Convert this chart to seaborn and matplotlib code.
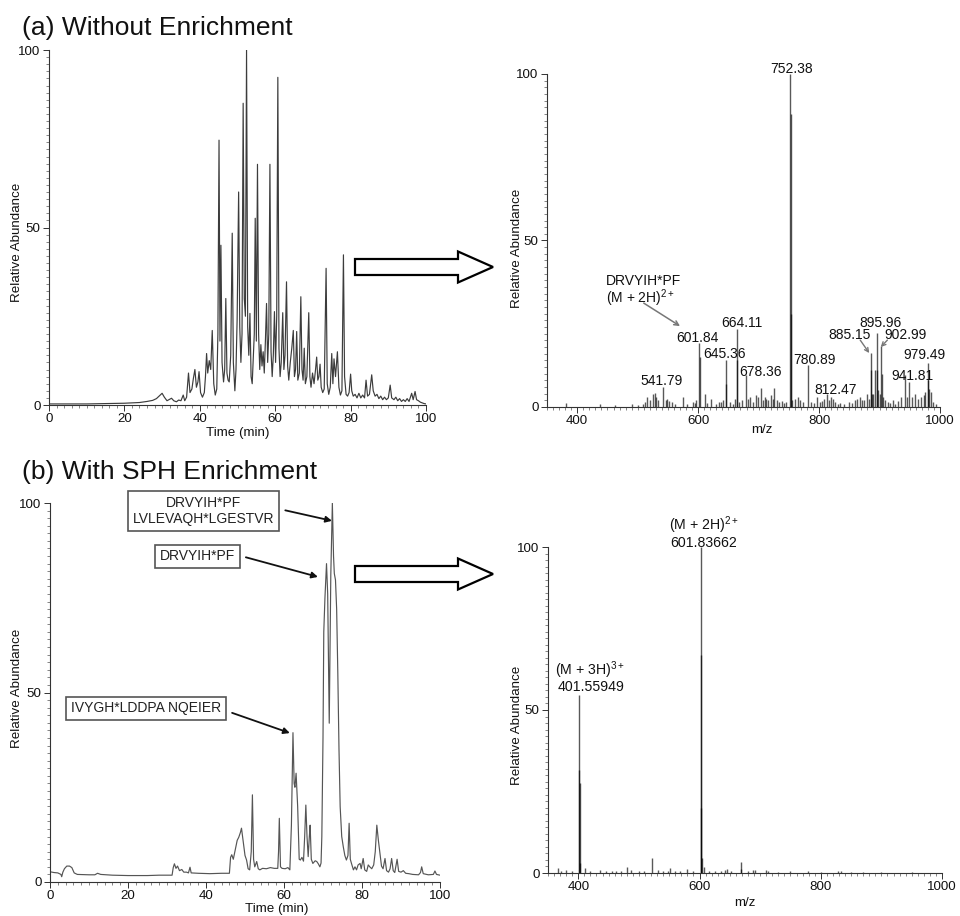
import matplotlib
matplotlib.use("Agg")
import matplotlib.pyplot as plt
from matplotlib.patches import Polygon
from matplotlib.ticker import MultipleLocator, FixedLocator
import seaborn as sns
import pandas as pd

# ---------------- data ----------------
# (a) base peak chromatogram without enrichment: (time min, relative abundance)
chrom_a_points = [
    (0, 0.3), (5, 0.3), (10, 0.3), (15, 0.4), (20, 0.5), (24, 0.7), (26, 1.0), (27.5, 1.3),
    (28.5, 1.8), (29.3, 2.6), (30.0, 3.3), (30.6, 2.2), (31.3, 1.2), (32.0, 1.6), (32.5, 1.9),
    (33.1, 1.2), (33.8, 0.9), (34.4, 1.4), (35.0, 1.2), (35.6, 2.8), (36.0, 1.2), (36.5, 2.2),
    (37.0, 9.0), (37.4, 3.5), (37.9, 4.5), (38.3, 7.5), (38.7, 10.0), (39.1, 5.0), (39.5, 6.5),
    (39.8, 9.4), (40.2, 3.5), (40.7, 2.2), (41.2, 3.5), (41.5, 8.0), (41.8, 14.5), (42.1, 9.0),
    (42.5, 12.5), (42.9, 10.0), (43.3, 21.0), (43.7, 6.0), (44.1, 2.8), (44.5, 4.5), (44.8, 20.0),
    (45.1, 74.6), (45.35, 18.0), (45.6, 45.0), (45.9, 12.0), (46.3, 6.5), (46.6, 10.0), (46.9, 30.0),
    (47.2, 9.0), (47.5, 7.0), (47.8, 6.5), (48.2, 14.0), (48.6, 48.4), (48.9, 12.0), (49.3, 4.0),
    (49.6, 10.0), (49.9, 24.0), (50.3, 60.0), (50.6, 22.0), (50.9, 12.0), (51.2, 20.0), (51.5, 85.0),
    (51.8, 30.0), (52.1, 25.0), (52.4, 100.0), (52.7, 22.0), (53.0, 14.0), (53.3, 25.8), (53.6, 8.0),
    (53.9, 6.0), (54.2, 14.0), (54.45, 20.0), (54.7, 52.6), (55.0, 18.0), (55.3, 67.8), (55.6, 20.0),
    (55.9, 10.0), (56.2, 17.0), (56.5, 11.0), (56.8, 15.0), (57.1, 9.0), (57.4, 18.0), (57.7, 28.6),
    (58.0, 12.0), (58.3, 20.0), (58.6, 67.8), (58.9, 15.0), (59.2, 8.0), (59.5, 14.0), (59.8, 26.3),
    (60.1, 12.0), (60.4, 25.0), (60.7, 92.3), (61.0, 16.0), (61.3, 8.0), (61.6, 12.0), (62.0, 26.0),
    (62.3, 10.0), (62.6, 14.0), (63.0, 34.7), (63.3, 11.0), (63.6, 7.0), (64.0, 12.0), (64.4, 16.0),
    (64.8, 21.0), (65.1, 8.0), (65.4, 10.0), (65.7, 20.7), (66.0, 7.0), (66.4, 9.0), (66.8, 30.5),
    (67.1, 10.0), (67.4, 7.0), (67.7, 16.0), (68.0, 6.0), (68.4, 8.0), (68.9, 26.0), (69.2, 8.0),
    (69.5, 5.0), (69.9, 9.0), (70.3, 6.0), (70.7, 10.0), (71.0, 13.5), (71.3, 7.0), (71.6, 8.0),
    (71.9, 11.5), (72.2, 5.0), (72.6, 3.5), (73.0, 4.5), (73.5, 38.5), (73.8, 6.0), (74.2, 3.0),
    (74.6, 5.0), (75.0, 14.5), (75.3, 6.0), (75.6, 13.0), (76.0, 8.0), (76.5, 15.0), (76.9, 5.0),
    (77.3, 2.8), (77.7, 4.0), (78.1, 42.3), (78.4, 8.0), (78.8, 3.0), (79.2, 2.5), (79.6, 3.5),
    (80.0, 8.7), (80.3, 4.0), (80.7, 2.5), (81.2, 3.0), (81.7, 2.0), (82.2, 3.3), (82.7, 2.0),
    (83.2, 2.8), (83.7, 2.0), (84.1, 7.0), (84.5, 2.5), (85.0, 3.0), (85.6, 8.5), (86.0, 4.0),
    (86.5, 2.5), (87.0, 3.0), (87.5, 1.8), (88.0, 2.5), (88.5, 1.5), (89.0, 2.2), (89.5, 1.5),
    (90.0, 2.0), (90.5, 5.6), (90.9, 2.0), (91.5, 1.5), (92.0, 2.2), (92.5, 1.2), (93.0, 1.8),
    (93.5, 1.0), (94.0, 1.5), (94.5, 1.0), (95.0, 1.8), (95.5, 1.0), (96.2, 3.3), (96.6, 1.5),
    (97.1, 3.8), (97.5, 1.5), (98.0, 1.2), (98.5, 0.8), (99.0, 0.6), (99.5, 0.4), (100, 0.3),
]

# (b) base peak chromatogram with SPH enrichment
chrom_b_points = [
    (0, 2.7), (1, 2.5), (2, 2.4), (2.8, 2.0), (3.0, 1.4), (3.3, 2.6), (3.7, 3.5), (4.3, 4.2),
    (5.0, 4.2), (5.6, 3.8), (6.2, 2.4), (7, 2.0), (10, 1.9), (11.5, 1.9), (12.2, 2.3), (13, 2.0),
    (16, 1.8), (20, 1.7), (25, 1.7), (28, 1.8), (31.3, 1.8), (31.6, 3.8), (31.9, 4.8), (32.3, 3.6),
    (32.7, 4.2), (33.2, 3.0), (33.8, 3.3), (34.3, 2.6), (35.0, 2.6), (35.5, 2.4), (35.9, 3.9),
    (36.2, 2.4), (38, 2.3), (41, 2.2), (44, 2.3), (46.0, 2.3), (46.3, 6.5), (46.6, 7.2), (47.0, 6.0),
    (47.5, 8.5), (48.0, 11.0), (48.4, 11.8), (48.8, 13.0), (49.1, 14.2), (49.5, 11.0), (50.0, 7.0),
    (50.4, 5.8), (50.8, 3.5), (51.2, 3.2), (51.6, 8.0), (51.9, 23.0), (52.2, 6.0), (52.5, 4.0),
    (53.0, 5.4), (53.4, 3.5), (53.8, 3.2), (54.5, 3.6), (55.5, 3.5), (56.5, 3.8), (57.5, 3.6),
    (58.4, 3.6), (58.6, 8.0), (58.8, 16.8), (59.1, 4.0), (59.5, 3.6), (60.3, 3.5), (61.0, 3.8),
    (61.5, 3.2), (61.9, 15.0), (62.3, 39.4), (62.6, 26.0), (62.8, 25.0), (63.1, 28.7), (63.5, 20.0),
    (63.9, 6.0), (64.2, 5.8), (64.6, 6.5), (65.0, 5.5), (65.3, 12.0), (65.6, 20.3), (65.9, 12.0),
    (66.2, 6.7), (66.5, 12.0), (66.7, 15.0), (67.0, 6.0), (67.4, 4.9), (68.0, 5.6), (68.4, 5.4),
    (68.8, 4.8), (69.2, 4.0), (69.5, 5.0), (69.7, 12.0), (70.0, 38.0), (70.2, 66.0), (70.5, 75.0),
    (70.9, 84.0), (71.2, 76.0), (71.4, 60.0), (71.6, 41.9), (71.8, 62.0), (72.0, 81.0), (72.4, 100.0),
    (72.7, 86.0), (72.9, 81.4), (73.2, 79.7), (73.5, 72.0), (73.8, 55.0), (74.1, 35.0), (74.4, 19.9),
    (74.8, 12.0), (75.2, 9.3), (75.6, 7.0), (76.0, 5.8), (76.4, 7.0), (76.7, 15.5), (77.0, 6.0),
    (77.3, 4.9), (77.8, 3.2), (78.2, 4.0), (78.6, 3.2), (79.0, 4.5), (79.5, 4.9), (79.8, 3.5),
    (80.3, 6.2), (80.7, 3.2), (81.2, 2.8), (81.6, 4.5), (82.0, 4.0), (82.5, 3.5), (83.0, 4.5),
    (83.4, 8.0), (83.8, 15.0), (84.2, 11.0), (84.6, 7.6), (85.0, 4.2), (85.4, 3.5), (85.9, 6.2),
    (86.3, 3.0), (86.8, 2.6), (87.2, 3.5), (87.6, 6.2), (88.0, 3.0), (88.4, 2.5), (89.0, 6.0),
    (89.4, 2.8), (90.0, 2.6), (90.6, 3.0), (91.2, 2.3), (92, 2.2), (93, 2.0), (94.5, 1.9),
    (95.0, 2.5), (95.3, 4.0), (95.7, 2.2), (97, 1.9), (98.3, 2.0), (98.7, 2.9), (99.1, 2.0), (100, 1.8),
]

# (a) mass spectrum: (m/z, relative abundance)
spec_a_points = [
    (381.7, 1.2), (438, 0.8), (462, 0.5), (490, 0.8), (500, 0.6), (508, 1.0), (512, 1.5), (516, 3.0),
    (520, 2.0), (524.5, 4.0), (528, 4.2), (530, 3.0), (534, 2.0), (541.79, 6.1), (546, 2.0),
    (549, 2.5), (552, 1.8), (556, 1.5), (562, 1.0), (574.5, 3.0), (582, 1.0), (591, 1.5), (594, 1.2),
    (597, 2.0), (601.84, 19.1), (602.34, 15.0), (610.5, 3.8), (615, 1.2), (621.7, 2.5), (630, 1.0),
    (635, 1.5), (638, 1.5), (641, 2.0), (645.36, 14.1), (645.86, 7.0), (652, 1.5), (657, 1.0),
    (661, 2.5), (664.11, 23.3), (664.61, 14.0), (668, 1.5), (672, 2.0), (678.36, 9.6), (682, 2.5),
    (686, 3.0), (690, 1.5), (695, 3.5), (699, 3.0), (704, 5.8), (708, 2.0), (710.5, 3.0), (713, 2.5),
    (716, 2.0), (720.5, 3.5), (723, 2.5), (726, 5.8), (730, 2.2), (734, 1.5), (738, 1.8), (742, 1.2),
    (746, 1.5), (752.38, 100.0), (752.88, 88.0), (753.38, 28.0), (756, 2.0), (760, 2.5), (765, 3.0),
    (769, 2.2), (773, 1.5), (780.89, 12.6), (786, 1.5), (791, 1.2), (796.7, 3.0), (801, 1.5),
    (805, 1.8), (808, 2.5), (812.47, 3.8), (816, 2.0), (819, 3.0), (823, 2.5), (827, 1.5),
    (831, 1.0), (835, 1.2), (842, 1.0), (849, 1.5), (854, 1.2), (859, 2.0), (863, 2.5), (867, 3.0),
    (871, 2.0), (874, 2.2), (879, 3.8), (882, 2.5), (885.15, 16.1), (885.65, 11.0), (888, 4.0),
    (890, 3.8), (893, 11.0), (895.96, 22.1), (896.46, 11.0), (898, 5.0), (900, 4.0), (902.99, 18.3),
    (903.49, 10.0), (905, 3.0), (908.5, 2.2), (914, 1.5), (918, 1.2), (922, 2.2), (926, 1.0),
    (931, 1.8), (936, 3.0), (941.81, 9.5), (945, 3.0), (949.5, 7.6), (954, 3.0), (958, 4.0),
    (963.5, 2.5), (969, 3.0), (973, 3.5), (976, 4.5), (979.49, 13.1), (979.99, 8.0), (981, 5.5),
    (984.6, 4.5), (988, 1.5), (994, 0.8),
]

# (b) mass spectrum
spec_b_points = [
    (366, 1.4), (372, 0.6), (380, 0.8), (390, 0.5), (401.56, 54.6), (401.89, 31.6), (402.23, 27.5),
    (402.56, 3.0), (411, 1.4), (420, 0.6), (436, 1.0), (445, 0.6), (455, 0.5), (462, 0.6), (470, 0.5),
    (480, 1.9), (487, 0.8), (500, 0.6), (509, 0.5), (521, 4.5), (531, 0.9), (540, 0.5), (548, 0.6),
    (552, 1.4), (560, 0.7), (567, 0.5), (579, 1.1), (590, 0.6), (601.84, 100.0), (602.34, 67.0),
    (602.84, 20.0), (603.34, 4.5), (607, 1.9), (615, 0.6), (625, 0.5), (635, 0.6), (642, 0.9),
    (645, 1.1), (652, 0.6), (668, 3.5), (669, 1.2), (680, 0.6), (689, 0.9), (692, 0.8), (710, 0.8),
    (713, 0.7), (730, 0.4), (750, 0.5), (779, 0.7), (800, 0.4), (829, 0.7), (833, 0.5), (850, 0.4),
    (870, 0.3), (900, 0.3), (950, 0.3),
]

# peak labels for spectrum (a): (text, label x (m/z), label y (abundance))
spec_a_labels = [
    ("752.38", 755, 101.5), ("601.84", 598, 20.7), ("645.36", 643, 15.9), ("664.11", 672, 25.2),
    ("678.36", 703, 10.5), ("541.79", 540, 7.8), ("780.89", 792, 14.1), ("812.47", 827, 5.1),
    ("885.15", 850, 21.6), ("895.96", 902, 25.2), ("902.99", 943, 21.6), ("979.49", 975, 15.6),
    ("941.81", 955, 9.3),
]
# small label arrows in spectrum (a): (start m/z, start ab, end m/z, end ab)
spec_a_arrows = [(868, 20.1, 883, 16.2), (913, 20.1, 902, 18.0)]

# peak labels for spectrum (b)
spec_b_labels = [
    (r"(M + 2H)$^{\mathrm{2+}}$", 607, 106.7), ("601.83662", 606, 101.2),
    (r"(M + 3H)$^{\mathrm{3+}}$", 419, 62.3), ("401.55949", 421, 57.1),
]

# boxed peptide annotations in chromatogram (b): (text, box centre t, box centre ab, tip t, tip ab, relpos y)
chrom_b_notes = [
    ("DRVYIH*PF\nLVLEVAQH*LGESTVR", 39.4, 97.9, 72.3, 95.3, 0.6),
    ("DRVYIH*PF", 37.8, 85.9, 68.7, 80.5, 0.65),
    ("IVYGH*LDDPA NQEIER", 24.7, 45.8, 61.5, 39.3, 0.45),
]

time_ticks = [0, 20, 40, 60, 80, 100]
mz_ticks = [400, 600, 800, 1000]
ab_ticks = [0, 50, 100]

# ---------------- style ----------------
sns.set_theme(style="ticks")
plt.rcParams["font.family"] = ["Liberation Sans", "DejaVu Sans"]
plt.rcParams["mathtext.fontset"] = "custom"
plt.rcParams["mathtext.rm"] = "Liberation Sans"
plt.rcParams["mathtext.it"] = "Liberation Sans:italic"
plt.rcParams["mathtext.bf"] = "Liberation Sans:bold"

W, H = 960, 916
fig = plt.figure(figsize=(W / 100, H / 100), dpi=100)
fig.patch.set_facecolor("white")


def add_ax(x0, y0, x1, y1):
    return fig.add_axes([x0 / W, 1 - y1 / H, (x1 - x0) / W, (y1 - y0) / H])


def fx(x):
    return x / W


def fy(y):
    return 1 - y / H


def style_axis(ax, xlim, xticks, xminor):
    ax.set_xlim(*xlim)
    ax.set_ylim(0, 100)
    ax.xaxis.set_major_locator(FixedLocator(xticks))
    ax.yaxis.set_major_locator(FixedLocator(ab_ticks))
    ax.xaxis.set_minor_locator(MultipleLocator(xminor))
    ax.yaxis.set_minor_locator(MultipleLocator(2))
    for s in ["top", "right"]:
        ax.spines[s].set_visible(False)
    for s in ["left", "bottom"]:
        ax.spines[s].set_linewidth(0.8)
        ax.spines[s].set_color("#333333")
    ax.tick_params(which="major", direction="out", length=4, width=0.7, color="#333333",
                   labelsize=9.6, pad=2, labelcolor="#111111")
    ax.tick_params(which="minor", direction="out", length=2, width=0.5, color="#555555")
    ax.set_xlabel("")
    ax.set_ylabel("")
    ax.set_facecolor("white")
    ax.grid(False)


def chrom(ax, pts, color):
    df = pd.DataFrame(pts, columns=["time", "ab"])
    sns.lineplot(data=df, x="time", y="ab", ax=ax, color=color, lw=0.85,
                 estimator=None, sort=False)


def spectrum(ax, pts):
    df = pd.DataFrame(pts, columns=["mz", "ab"])
    ax.vlines(df["mz"], 0, df["ab"], color="black", lw=1.0, alpha=0.65)


# ---------------- (a) chromatogram ----------------
ax1 = add_ax(49, 50, 426, 405)
chrom(ax1, chrom_a_points, "#3c3c3c")
style_axis(ax1, (0, 100), time_ticks, 2)

# ---------------- (a) spectrum ----------------
ax2 = add_ax(547, 74, 940, 407)
spectrum(ax2, spec_a_points)
style_axis(ax2, (350, 1000), mz_ticks, 10)
for txt, x, y in spec_a_labels:
    ax2.text(x, y, txt, ha="center", va="center", fontsize=10, color="#111111", clip_on=False)
for x0, y0, x1, y1 in spec_a_arrows:
    ax2.annotate("", xy=(x1, y1), xytext=(x0, y0),
                 arrowprops=dict(arrowstyle="->", color="#777777", lw=1.0, mutation_scale=7,
                                 shrinkA=0, shrinkB=0))
ax2.text(510, 37.8, "DRVYIH*PF", ha="center", va="center", fontsize=10, color="#111111")
ax2.text(505, 32.7, r"(M + 2H)$^{\mathrm{2+}}$", ha="center", va="center", fontsize=10, color="#111111")
ax2.annotate("", xy=(570, 24.3), xytext=(510, 31.2),
             arrowprops=dict(arrowstyle="->", color="#777777", lw=1.1, mutation_scale=8,
                             shrinkA=0, shrinkB=0))

# ---------------- (b) chromatogram ----------------
ax3 = add_ax(50, 503, 440, 882)
chrom(ax3, chrom_b_points, "#555555")
style_axis(ax3, (0, 100), time_ticks, 2)
for txt, bx, by, tx, ty, ry in chrom_b_notes:
    ax3.annotate(txt, xy=(tx, ty), xytext=(bx, by), ha="center", va="center",
                 fontsize=10, color="#222222", linespacing=1.25,
                 bbox=dict(boxstyle="square,pad=0.35", fc="white", ec="#555555", lw=1.2),
                 arrowprops=dict(arrowstyle="-|>", color="#111111", lw=1.3, mutation_scale=9,
                                 shrinkA=4, shrinkB=0, relpos=(1.0, ry)))

# ---------------- (b) spectrum ----------------
ax4 = add_ax(548, 547, 942, 873)
spectrum(ax4, spec_b_points)
style_axis(ax4, (350, 1000), mz_ticks, 10)
for txt, x, y in spec_b_labels:
    ax4.text(x, y, txt, ha="center", va="center", fontsize=10.2, color="#111111", clip_on=False)

# ---------------- titles & axis labels ----------------
fig.text(fx(22), fy(28), "(a) Without Enrichment", fontsize=19, ha="left", va="center", color="#111111")
fig.text(fx(22), fy(472), "(b) With SPH Enrichment", fontsize=19, ha="left", va="center", color="#111111")

lab_kw = dict(fontsize=9.6, color="#111111", ha="center", va="center")
fig.text(fx(17), fy(242), "Relative Abundance", rotation=90, **lab_kw)
fig.text(fx(517), fy(248), "Relative Abundance", rotation=90, **lab_kw)
fig.text(fx(17), fy(688), "Relative Abundance", rotation=90, **lab_kw)
fig.text(fx(517), fy(725), "Relative Abundance", rotation=90, **lab_kw)
fig.text(fx(238), fy(433), "Time (min)", **lab_kw)
fig.text(fx(762), fy(430), "m/z", **lab_kw)
fig.text(fx(277), fy(909), "Time (min)", **lab_kw)
fig.text(fx(745), fy(903), "m/z", **lab_kw)

# ---------------- hollow block arrows ----------------
def block_arrow(cy):
    pts = [(355, cy - 8), (458, cy - 8), (458, cy - 15.5), (493, cy), (458, cy + 15.5),
           (458, cy + 8), (355, cy + 8)]
    poly = Polygon([(fx(x), fy(y)) for x, y in pts], closed=True, transform=fig.transFigure,
                   fc="white", ec="black", lw=1.6, joinstyle="miter")
    fig.add_artist(poly)


block_arrow(267)
block_arrow(574)

fig.savefig("out.png", dpi=100, facecolor="white")
